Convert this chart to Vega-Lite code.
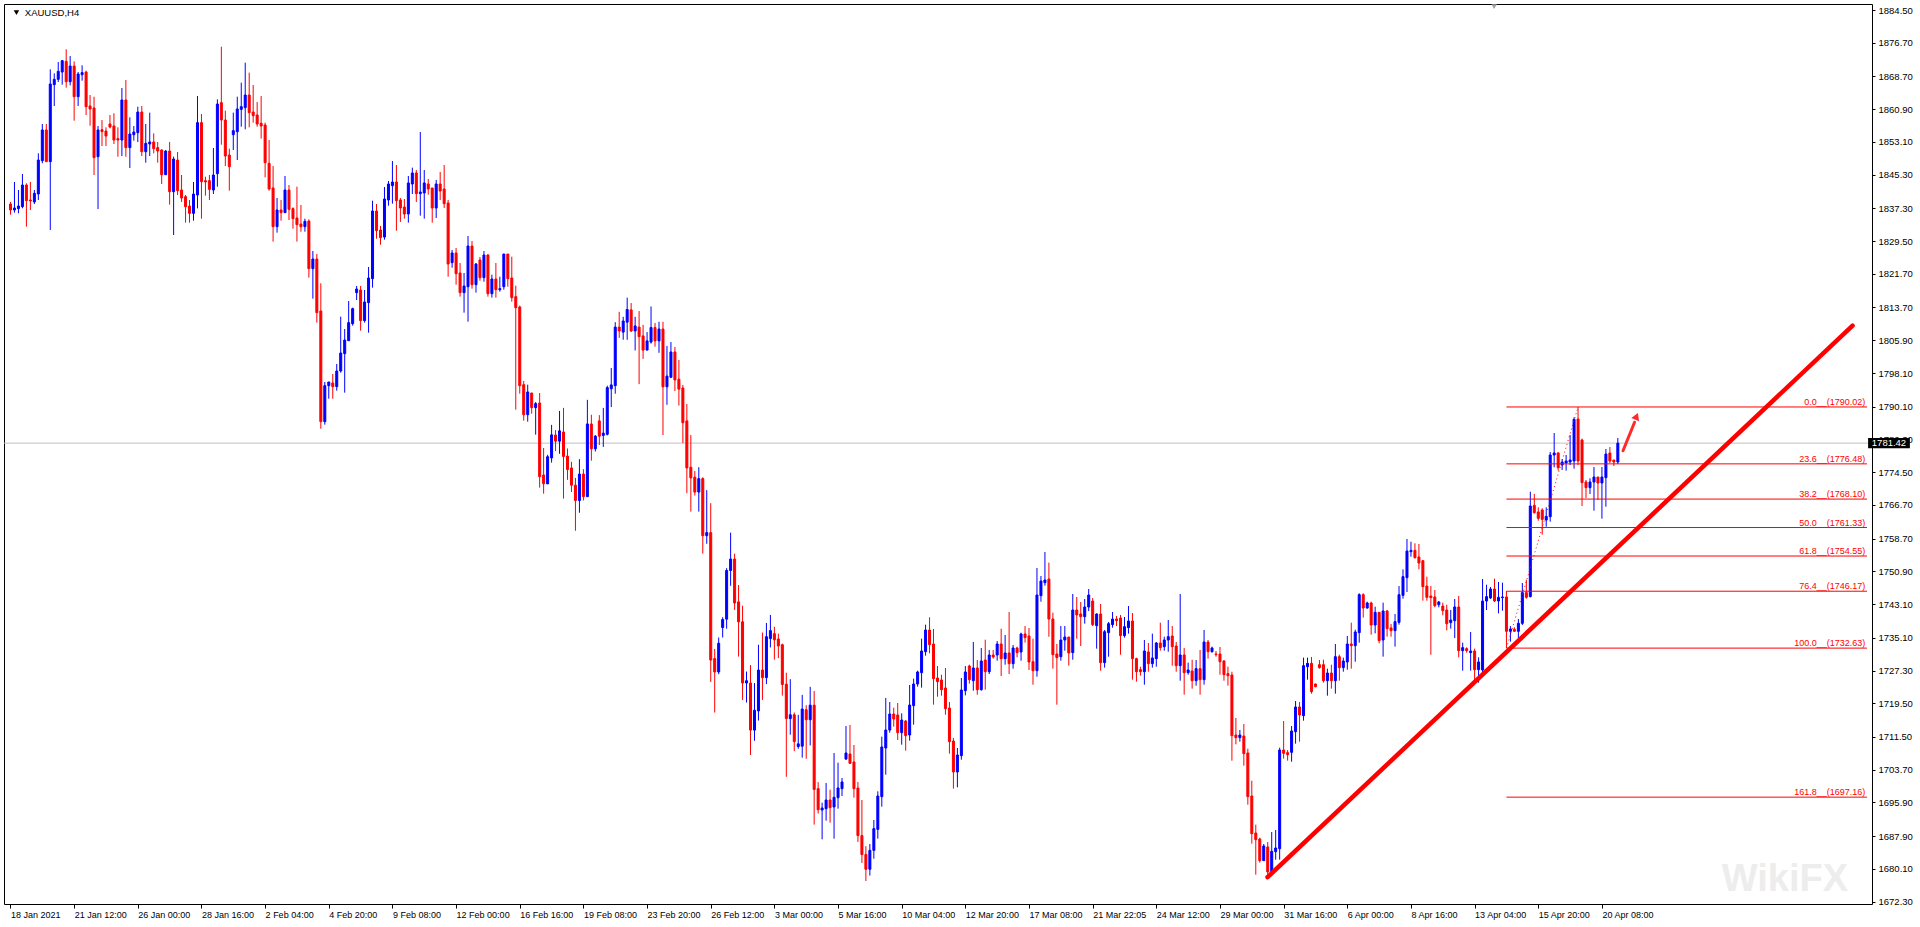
{
"$schema": "https://vega.github.io/schema/vega-lite/v6.json",
"width": 1868, "height": 900,
"autosize": {"type": "none"},
"padding": {"left": 4, "top": 4, "right": 48, "bottom": 23},
"background": "#ffffff",
"config": {
 "view": {"stroke": "#000000", "strokeWidth": 1},
 "font": "Liberation Sans",
 "axis": {"labelFont": "Liberation Sans", "labelFontSize": 9, "labelColor": "#000000", "tickColor": "#000000", "domain": false, "grid": false, "title": null, "labelOverlap": false, "labelFlush": false}
},
"datasets": {
 "candles": [
{"i":0,"o":1838.33,"h":1838.81,"l":1835.79,"c":1836.9},
{"i":1,"o":1836.9,"h":1843.57,"l":1836.27,"c":1837.38},
{"i":2,"o":1837.22,"h":1841.66,"l":1836.11,"c":1837.85},
{"i":3,"o":1837.69,"h":1845.47,"l":1837.3,"c":1842.85},
{"i":4,"o":1842.85,"h":1843.25,"l":1832.94,"c":1839.12},
{"i":5,"o":1839.28,"h":1843.57,"l":1836.9,"c":1839.04},
{"i":6,"o":1838.81,"h":1841.66,"l":1838.33,"c":1840.87},
{"i":7,"o":1840.71,"h":1850.39,"l":1839.28,"c":1848.8},
{"i":8,"o":1848.64,"h":1857.37,"l":1848.01,"c":1855.94},
{"i":9,"o":1855.94,"h":1857.37,"l":1848.41,"c":1848.41},
{"i":10,"o":1848.41,"h":1870.38,"l":1832.14,"c":1866.89},
{"i":11,"o":1866.73,"h":1869.43,"l":1861.65,"c":1868.0},
{"i":12,"o":1868.0,"h":1872.12,"l":1867.36,"c":1869.9},
{"i":13,"o":1869.74,"h":1872.6,"l":1866.73,"c":1872.44},
{"i":14,"o":1872.28,"h":1875.14,"l":1866.02,"c":1867.44},
{"i":15,"o":1867.44,"h":1873.55,"l":1866.57,"c":1871.17},
{"i":16,"o":1871.17,"h":1872.28,"l":1858.16,"c":1863.87},
{"i":17,"o":1863.87,"h":1869.74,"l":1861.65,"c":1869.27},
{"i":18,"o":1869.11,"h":1871.33,"l":1867.68,"c":1869.59},
{"i":19,"o":1869.74,"h":1870.06,"l":1859.51,"c":1861.49},
{"i":20,"o":1861.65,"h":1864.27,"l":1856.97,"c":1860.94},
{"i":21,"o":1861.18,"h":1863.87,"l":1845.23,"c":1849.36},
{"i":22,"o":1849.59,"h":1856.89,"l":1837.14,"c":1855.94},
{"i":23,"o":1856.02,"h":1858.32,"l":1852.13,"c":1855.54},
{"i":24,"o":1855.7,"h":1856.58,"l":1852.13,"c":1854.51},
{"i":25,"o":1857.37,"h":1859.51,"l":1856.34,"c":1856.65},
{"i":26,"o":1856.89,"h":1859.91,"l":1852.61,"c":1853.56},
{"i":27,"o":1853.88,"h":1856.58,"l":1849.59,"c":1853.56},
{"i":28,"o":1853.56,"h":1865.94,"l":1849.75,"c":1863.08},
{"i":29,"o":1863.08,"h":1867.84,"l":1849.59,"c":1851.74},
{"i":30,"o":1851.74,"h":1858.96,"l":1846.9,"c":1854.99},
{"i":31,"o":1854.83,"h":1856.89,"l":1853.4,"c":1855.46},
{"i":32,"o":1855.31,"h":1861.49,"l":1853.09,"c":1860.22},
{"i":33,"o":1860.22,"h":1861.65,"l":1849.75,"c":1850.78},
{"i":34,"o":1850.78,"h":1857.37,"l":1848.17,"c":1852.77},
{"i":35,"o":1852.61,"h":1860.07,"l":1849.75,"c":1853.09},
{"i":36,"o":1853.09,"h":1855.15,"l":1850.39,"c":1851.5},
{"i":37,"o":1851.74,"h":1853.09,"l":1848.17,"c":1850.94},
{"i":38,"o":1851.18,"h":1851.34,"l":1843.09,"c":1845.31},
{"i":39,"o":1845.31,"h":1851.18,"l":1845.31,"c":1850.94},
{"i":40,"o":1850.94,"h":1853.09,"l":1838.17,"c":1841.26},
{"i":41,"o":1841.26,"h":1849.59,"l":1830.95,"c":1849.04},
{"i":42,"o":1848.8,"h":1850.71,"l":1840.47,"c":1841.5},
{"i":43,"o":1841.66,"h":1845.23,"l":1838.81,"c":1839.76},
{"i":44,"o":1840.07,"h":1840.47,"l":1833.89,"c":1837.69},
{"i":45,"o":1837.85,"h":1839.28,"l":1833.89,"c":1836.11},
{"i":46,"o":1836.11,"h":1843.57,"l":1834.36,"c":1840.71},
{"i":47,"o":1840.47,"h":1864.03,"l":1837.3,"c":1857.69},
{"i":48,"o":1857.69,"h":1859.75,"l":1834.84,"c":1843.64},
{"i":49,"o":1843.88,"h":1844.83,"l":1840.31,"c":1843.57},
{"i":50,"o":1843.88,"h":1845.23,"l":1839.28,"c":1841.82},
{"i":51,"o":1841.66,"h":1851.66,"l":1840.71,"c":1845.23},
{"i":52,"o":1845.55,"h":1863.24,"l":1842.45,"c":1862.13},
{"i":53,"o":1862.45,"h":1875.77,"l":1852.45,"c":1858.32},
{"i":54,"o":1858.32,"h":1860.54,"l":1847.37,"c":1849.75},
{"i":55,"o":1849.99,"h":1851.5,"l":1841.5,"c":1847.21},
{"i":56,"o":1854.83,"h":1860.07,"l":1851.18,"c":1855.78},
{"i":57,"o":1855.54,"h":1863.87,"l":1848.8,"c":1860.94},
{"i":58,"o":1860.86,"h":1867.21,"l":1856.73,"c":1861.49},
{"i":59,"o":1861.26,"h":1871.97,"l":1856.1,"c":1864.27},
{"i":60,"o":1864.27,"h":1869.59,"l":1856.58,"c":1860.07},
{"i":61,"o":1860.22,"h":1866.65,"l":1857.69,"c":1859.35},
{"i":62,"o":1859.51,"h":1862.6,"l":1856.73,"c":1857.37},
{"i":63,"o":1857.53,"h":1864.03,"l":1853.88,"c":1856.89},
{"i":64,"o":1857.13,"h":1857.69,"l":1844.68,"c":1848.17},
{"i":65,"o":1848.01,"h":1853.56,"l":1841.5,"c":1841.9},
{"i":66,"o":1842.14,"h":1847.37,"l":1829.37,"c":1832.94},
{"i":67,"o":1832.94,"h":1839.76,"l":1831.51,"c":1836.9},
{"i":68,"o":1836.9,"h":1839.28,"l":1834.36,"c":1836.27},
{"i":69,"o":1836.27,"h":1844.99,"l":1836.27,"c":1841.66},
{"i":70,"o":1841.66,"h":1842.85,"l":1834.52,"c":1837.06},
{"i":71,"o":1837.22,"h":1837.54,"l":1832.46,"c":1834.84},
{"i":72,"o":1835.0,"h":1842.45,"l":1829.37,"c":1833.41},
{"i":73,"o":1833.57,"h":1838.09,"l":1831.74,"c":1832.93},
{"i":74,"o":1832.93,"h":1834.84,"l":1831.74,"c":1834.2},
{"i":75,"o":1834.28,"h":1834.68,"l":1820.8,"c":1822.94},
{"i":76,"o":1822.94,"h":1827.14,"l":1815.8,"c":1825.24},
{"i":77,"o":1825.24,"h":1826.43,"l":1810.09,"c":1812.47},
{"i":78,"o":1812.86,"h":1819.45,"l":1784.86,"c":1786.53},
{"i":79,"o":1786.53,"h":1795.97,"l":1785.81,"c":1795.09},
{"i":80,"o":1795.09,"h":1795.97,"l":1792.0,"c":1795.97},
{"i":81,"o":1795.73,"h":1797.87,"l":1792.0,"c":1794.86},
{"i":82,"o":1794.86,"h":1800.25,"l":1793.9,"c":1798.58},
{"i":83,"o":1798.58,"h":1811.52,"l":1798.19,"c":1802.87},
{"i":84,"o":1802.71,"h":1808.58,"l":1793.43,"c":1805.96},
{"i":85,"o":1805.8,"h":1815.24,"l":1805.8,"c":1810.09},
{"i":86,"o":1809.85,"h":1813.66,"l":1809.37,"c":1813.42},
{"i":87,"o":1817.23,"h":1818.81,"l":1815.48,"c":1818.1},
{"i":88,"o":1817.86,"h":1818.81,"l":1808.18,"c":1810.56},
{"i":89,"o":1810.56,"h":1817.86,"l":1810.09,"c":1815.01},
{"i":90,"o":1814.85,"h":1823.34,"l":1807.71,"c":1820.72},
{"i":91,"o":1820.56,"h":1839.12,"l":1818.42,"c":1836.66},
{"i":92,"o":1836.66,"h":1838.33,"l":1830.08,"c":1831.98},
{"i":93,"o":1832.14,"h":1833.09,"l":1828.65,"c":1830.32},
{"i":94,"o":1830.47,"h":1842.37,"l":1829.84,"c":1839.52},
{"i":95,"o":1839.28,"h":1843.8,"l":1837.93,"c":1843.09},
{"i":96,"o":1842.69,"h":1848.56,"l":1838.41,"c":1843.56},
{"i":97,"o":1843.56,"h":1847.61,"l":1831.98,"c":1839.12},
{"i":98,"o":1839.28,"h":1839.76,"l":1834.05,"c":1837.38},
{"i":99,"o":1837.61,"h":1839.52,"l":1834.84,"c":1835.95},
{"i":100,"o":1835.95,"h":1844.99,"l":1833.89,"c":1843.33},
{"i":101,"o":1843.09,"h":1846.98,"l":1840.71,"c":1845.71},
{"i":102,"o":1845.71,"h":1846.42,"l":1838.8,"c":1840.79},
{"i":103,"o":1840.79,"h":1855.46,"l":1835.55,"c":1841.18},
{"i":104,"o":1840.95,"h":1846.42,"l":1834.84,"c":1843.33},
{"i":105,"o":1843.09,"h":1844.28,"l":1840.55,"c":1841.9},
{"i":106,"o":1842.14,"h":1842.14,"l":1833.89,"c":1837.38},
{"i":107,"o":1837.38,"h":1844.04,"l":1835.0,"c":1843.09},
{"i":108,"o":1843.09,"h":1845.94,"l":1839.28,"c":1841.42},
{"i":109,"o":1841.9,"h":1847.61,"l":1837.38,"c":1838.41},
{"i":110,"o":1838.57,"h":1839.28,"l":1821.03,"c":1824.05},
{"i":111,"o":1824.37,"h":1827.38,"l":1823.18,"c":1826.67},
{"i":112,"o":1826.67,"h":1827.86,"l":1819.13,"c":1821.75},
{"i":113,"o":1821.91,"h":1824.29,"l":1816.28,"c":1817.23},
{"i":114,"o":1817.23,"h":1821.91,"l":1812.47,"c":1818.81},
{"i":115,"o":1818.65,"h":1830.71,"l":1810.33,"c":1828.33},
{"i":116,"o":1828.33,"h":1829.52,"l":1818.18,"c":1819.13},
{"i":117,"o":1819.13,"h":1824.29,"l":1817.23,"c":1824.05},
{"i":118,"o":1825.0,"h":1825.72,"l":1820.08,"c":1820.8},
{"i":119,"o":1820.8,"h":1827.14,"l":1819.84,"c":1826.19},
{"i":120,"o":1826.19,"h":1826.43,"l":1816.28,"c":1816.99},
{"i":121,"o":1816.99,"h":1821.51,"l":1816.04,"c":1820.48},
{"i":122,"o":1820.48,"h":1824.29,"l":1816.04,"c":1817.94},
{"i":123,"o":1817.94,"h":1821.03,"l":1817.47,"c":1818.18},
{"i":124,"o":1818.65,"h":1826.43,"l":1817.94,"c":1826.43},
{"i":125,"o":1826.43,"h":1826.43,"l":1818.65,"c":1820.56},
{"i":126,"o":1820.72,"h":1825.79,"l":1815.09,"c":1816.04},
{"i":127,"o":1816.28,"h":1818.89,"l":1789.38,"c":1813.66},
{"i":128,"o":1813.82,"h":1814.13,"l":1793.19,"c":1795.09},
{"i":129,"o":1795.33,"h":1796.21,"l":1786.76,"c":1788.19},
{"i":130,"o":1788.19,"h":1795.33,"l":1786.53,"c":1793.59},
{"i":131,"o":1793.35,"h":1793.35,"l":1788.43,"c":1789.86},
{"i":132,"o":1789.86,"h":1791.21,"l":1783.43,"c":1790.81},
{"i":133,"o":1790.97,"h":1793.35,"l":1770.82,"c":1773.44},
{"i":134,"o":1773.83,"h":1780.26,"l":1769.39,"c":1771.77},
{"i":135,"o":1771.72,"h":1778.64,"l":1771.72,"c":1778.18},
{"i":136,"o":1777.9,"h":1785.76,"l":1776.78,"c":1783.39},
{"i":137,"o":1783.34,"h":1784.52,"l":1779.52,"c":1781.88},
{"i":138,"o":1781.88,"h":1789.08,"l":1778.88,"c":1784.34},
{"i":139,"o":1784.07,"h":1789.81,"l":1768.22,"c":1778.24},
{"i":140,"o":1778.33,"h":1780.15,"l":1772.68,"c":1775.14},
{"i":141,"o":1775.51,"h":1776.97,"l":1769.77,"c":1771.41},
{"i":142,"o":1771.41,"h":1773.14,"l":1760.57,"c":1767.77},
{"i":143,"o":1767.77,"h":1777.6,"l":1764.85,"c":1774.05},
{"i":144,"o":1774.05,"h":1775.23,"l":1767.77,"c":1768.68},
{"i":145,"o":1768.68,"h":1791.72,"l":1768.68,"c":1785.98},
{"i":146,"o":1785.98,"h":1788.17,"l":1777.24,"c":1780.06},
{"i":147,"o":1780.06,"h":1783.34,"l":1779.42,"c":1783.07},
{"i":148,"o":1786.71,"h":1788.08,"l":1780.97,"c":1783.07},
{"i":149,"o":1783.25,"h":1789.81,"l":1780.52,"c":1783.8},
{"i":150,"o":1783.52,"h":1795.09,"l":1783.25,"c":1794.63},
{"i":151,"o":1794.36,"h":1799.28,"l":1789.99,"c":1795.27},
{"i":152,"o":1795.09,"h":1810.21,"l":1793.18,"c":1809.03},
{"i":153,"o":1809.03,"h":1812.67,"l":1806.47,"c":1808.11},
{"i":154,"o":1807.84,"h":1811.48,"l":1806.02,"c":1810.48},
{"i":155,"o":1810.21,"h":1816.04,"l":1806.02,"c":1813.21},
{"i":156,"o":1813.12,"h":1814.76,"l":1807.84,"c":1808.11},
{"i":157,"o":1808.11,"h":1811.48,"l":1803.47,"c":1809.3},
{"i":158,"o":1809.03,"h":1812.85,"l":1795.45,"c":1806.75},
{"i":159,"o":1806.93,"h":1809.57,"l":1801.47,"c":1803.56},
{"i":160,"o":1803.56,"h":1807.84,"l":1803.56,"c":1805.75},
{"i":161,"o":1805.47,"h":1813.94,"l":1805.11,"c":1808.93},
{"i":162,"o":1808.93,"h":1810.03,"l":1804.38,"c":1805.75},
{"i":163,"o":1805.75,"h":1810.3,"l":1802.92,"c":1808.57},
{"i":164,"o":1808.57,"h":1810.3,"l":1783.34,"c":1794.82},
{"i":165,"o":1794.82,"h":1804.56,"l":1790.54,"c":1797.37},
{"i":166,"o":1797.09,"h":1805.47,"l":1796.91,"c":1803.11},
{"i":167,"o":1803.11,"h":1804.29,"l":1793.81,"c":1796.46},
{"i":168,"o":1796.64,"h":1801.19,"l":1790.35,"c":1794.27},
{"i":169,"o":1794.54,"h":1795.27,"l":1781.43,"c":1786.26},
{"i":170,"o":1786.71,"h":1790.72,"l":1769.5,"c":1775.51},
{"i":171,"o":1775.69,"h":1783.34,"l":1765.12,"c":1773.14},
{"i":172,"o":1773.32,"h":1774.78,"l":1768.95,"c":1769.77},
{"i":173,"o":1769.77,"h":1775.69,"l":1765.12,"c":1772.96},
{"i":174,"o":1772.96,"h":1773.32,"l":1755.11,"c":1759.39},
{"i":175,"o":1759.39,"h":1770.23,"l":1757.47,"c":1760.12},
{"i":176,"o":1760.12,"h":1767.13,"l":1724.59,"c":1729.79},
{"i":177,"o":1730.15,"h":1732.43,"l":1717.31,"c":1726.96},
{"i":178,"o":1726.96,"h":1735.16,"l":1726.42,"c":1733.79},
{"i":179,"o":1737.53,"h":1739.99,"l":1735.16,"c":1739.44},
{"i":180,"o":1739.53,"h":1751.65,"l":1737.25,"c":1751.1},
{"i":181,"o":1751.1,"h":1760.12,"l":1747.46,"c":1753.83},
{"i":182,"o":1753.83,"h":1755.11,"l":1741.72,"c":1743.36},
{"i":183,"o":1743.63,"h":1747.64,"l":1730.61,"c":1738.89},
{"i":184,"o":1738.89,"h":1742.72,"l":1720.31,"c":1724.32},
{"i":185,"o":1724.32,"h":1727.05,"l":1719.68,"c":1724.87},
{"i":186,"o":1724.32,"h":1728.6,"l":1707.2,"c":1713.12},
{"i":187,"o":1713.12,"h":1724.32,"l":1710.57,"c":1717.85},
{"i":188,"o":1717.67,"h":1733.43,"l":1715.39,"c":1727.42},
{"i":189,"o":1727.42,"h":1736.34,"l":1720.31,"c":1725.6},
{"i":190,"o":1725.6,"h":1738.62,"l":1724.05,"c":1735.34},
{"i":191,"o":1734.89,"h":1740.53,"l":1732.79,"c":1736.8},
{"i":192,"o":1736.07,"h":1737.71,"l":1729.88,"c":1734.61},
{"i":193,"o":1734.8,"h":1736.07,"l":1730.24,"c":1733.16},
{"i":194,"o":1733.43,"h":1733.7,"l":1721.32,"c":1723.96},
{"i":195,"o":1724.05,"h":1726.78,"l":1702.01,"c":1715.85},
{"i":196,"o":1715.85,"h":1725.23,"l":1712.03,"c":1716.76},
{"i":197,"o":1716.76,"h":1717.31,"l":1708.11,"c":1710.39},
{"i":198,"o":1709.2,"h":1716.76,"l":1708.66,"c":1709.84},
{"i":199,"o":1709.29,"h":1721.5,"l":1706.56,"c":1718.13},
{"i":200,"o":1717.95,"h":1719.04,"l":1706.29,"c":1715.58},
{"i":201,"o":1715.58,"h":1723.41,"l":1709.47,"c":1719.04},
{"i":202,"o":1719.04,"h":1722.41,"l":1690.62,"c":1699.0},
{"i":203,"o":1699.18,"h":1700.73,"l":1693.26,"c":1694.17},
{"i":204,"o":1694.1,"h":1695.85,"l":1687.12,"c":1694.58},
{"i":205,"o":1694.42,"h":1700.53,"l":1691.56,"c":1696.48},
{"i":206,"o":1696.48,"h":1698.94,"l":1691.09,"c":1694.66},
{"i":207,"o":1694.82,"h":1707.67,"l":1687.28,"c":1697.12},
{"i":208,"o":1697.04,"h":1705.37,"l":1694.42,"c":1699.34},
{"i":209,"o":1699.18,"h":1701.72,"l":1697.43,"c":1700.77},
{"i":210,"o":1706.24,"h":1714.09,"l":1706.0,"c":1707.67},
{"i":211,"o":1707.43,"h":1714.33,"l":1705.05,"c":1705.21},
{"i":212,"o":1705.53,"h":1709.57,"l":1697.04,"c":1699.18},
{"i":213,"o":1699.34,"h":1700.77,"l":1686.5,"c":1688.0},
{"i":214,"o":1688.0,"h":1696.48,"l":1681.5,"c":1683.5},
{"i":215,"o":1683.5,"h":1685.5,"l":1677.2,"c":1680.0},
{"i":216,"o":1680.0,"h":1686.0,"l":1678.5,"c":1684.5},
{"i":217,"o":1684.5,"h":1691.72,"l":1682.5,"c":1689.66},
{"i":218,"o":1689.5,"h":1698.55,"l":1687.28,"c":1697.43},
{"i":219,"o":1697.28,"h":1711.56,"l":1694.9,"c":1709.1},
{"i":220,"o":1708.86,"h":1720.76,"l":1702.51,"c":1713.14},
{"i":221,"o":1713.14,"h":1719.81,"l":1712.51,"c":1716.95},
{"i":222,"o":1716.95,"h":1718.46,"l":1713.94,"c":1715.76},
{"i":223,"o":1716.71,"h":1719.57,"l":1710.76,"c":1712.51},
{"i":224,"o":1712.51,"h":1717.11,"l":1709.65,"c":1715.52},
{"i":225,"o":1715.28,"h":1715.52,"l":1708.22,"c":1711.79},
{"i":226,"o":1711.95,"h":1723.85,"l":1710.6,"c":1719.09},
{"i":227,"o":1718.93,"h":1725.36,"l":1714.41,"c":1724.09},
{"i":228,"o":1724.09,"h":1727.26,"l":1723.45,"c":1726.95},
{"i":229,"o":1726.79,"h":1734.88,"l":1723.22,"c":1731.94},
{"i":230,"o":1731.78,"h":1738.21,"l":1730.83,"c":1736.94},
{"i":231,"o":1736.94,"h":1739.96,"l":1731.39,"c":1733.45},
{"i":232,"o":1733.61,"h":1737.18,"l":1719.17,"c":1725.36},
{"i":233,"o":1725.52,"h":1728.37,"l":1721.07,"c":1724.64},
{"i":234,"o":1725.04,"h":1726.31,"l":1721.31,"c":1722.74},
{"i":235,"o":1723.14,"h":1727.9,"l":1716.79,"c":1718.22},
{"i":236,"o":1718.38,"h":1719.81,"l":1707.51,"c":1710.37},
{"i":237,"o":1710.52,"h":1711.24,"l":1699.18,"c":1703.15},
{"i":238,"o":1703.15,"h":1708.86,"l":1699.5,"c":1707.19},
{"i":239,"o":1707.03,"h":1725.52,"l":1706.08,"c":1722.66},
{"i":240,"o":1722.5,"h":1728.37,"l":1721.39,"c":1726.95},
{"i":241,"o":1728.37,"h":1728.69,"l":1724.17,"c":1725.12},
{"i":242,"o":1724.88,"h":1734.09,"l":1722.5,"c":1727.9},
{"i":243,"o":1727.9,"h":1729.8,"l":1721.55,"c":1722.74},
{"i":244,"o":1722.74,"h":1732.66,"l":1722.5,"c":1729.56},
{"i":245,"o":1729.8,"h":1734.64,"l":1722.74,"c":1727.02},
{"i":246,"o":1727.02,"h":1732.18,"l":1726.47,"c":1730.99},
{"i":247,"o":1730.99,"h":1732.18,"l":1730.12,"c":1730.51},
{"i":248,"o":1730.99,"h":1734.32,"l":1729.64,"c":1733.61},
{"i":249,"o":1733.61,"h":1737.26,"l":1725.99,"c":1730.12},
{"i":250,"o":1730.12,"h":1735.75,"l":1728.69,"c":1731.47},
{"i":251,"o":1731.47,"h":1741.22,"l":1726.47,"c":1728.93},
{"i":252,"o":1728.93,"h":1733.37,"l":1727.74,"c":1732.66},
{"i":253,"o":1732.66,"h":1732.97,"l":1730.44,"c":1731.55},
{"i":254,"o":1731.71,"h":1736.31,"l":1729.64,"c":1735.99},
{"i":255,"o":1735.99,"h":1737.89,"l":1733.93,"c":1735.12},
{"i":256,"o":1735.51,"h":1737.42,"l":1727.42,"c":1729.32},
{"i":257,"o":1729.4,"h":1734.88,"l":1723.93,"c":1727.26},
{"i":258,"o":1727.26,"h":1751.7,"l":1725.83,"c":1745.27},
{"i":259,"o":1745.11,"h":1749.79,"l":1743.68,"c":1748.6},
{"i":260,"o":1748.21,"h":1755.5,"l":1747.49,"c":1748.84},
{"i":261,"o":1749.08,"h":1752.97,"l":1735.35,"c":1739.56},
{"i":262,"o":1739.56,"h":1741.07,"l":1727.74,"c":1731.07},
{"i":263,"o":1731.23,"h":1733.61,"l":1719.17,"c":1730.36},
{"i":264,"o":1730.59,"h":1737.89,"l":1729.64,"c":1734.56},
{"i":265,"o":1734.56,"h":1737.89,"l":1732.02,"c":1735.27},
{"i":266,"o":1735.27,"h":1735.27,"l":1728.45,"c":1731.47},
{"i":267,"o":1731.55,"h":1745.51,"l":1729.88,"c":1741.7},
{"i":268,"o":1741.7,"h":1744.79,"l":1734.88,"c":1740.51},
{"i":269,"o":1740.75,"h":1743.6,"l":1733.13,"c":1740.11},
{"i":270,"o":1740.11,"h":1744.32,"l":1738.45,"c":1742.41},
{"i":271,"o":1742.41,"h":1746.7,"l":1741.46,"c":1745.27},
{"i":272,"o":1743.84,"h":1744.56,"l":1737.89,"c":1738.21},
{"i":273,"o":1737.97,"h":1740.9,"l":1732.5,"c":1740.75},
{"i":274,"o":1740.75,"h":1743.13,"l":1727.26,"c":1729.17},
{"i":275,"o":1729.17,"h":1736.94,"l":1727.98,"c":1736.54},
{"i":276,"o":1736.31,"h":1738.85,"l":1730.59,"c":1738.45},
{"i":277,"o":1738.21,"h":1741.22,"l":1737.5,"c":1739.56},
{"i":278,"o":1739.56,"h":1740.27,"l":1737.89,"c":1739.16},
{"i":279,"o":1739.8,"h":1740.51,"l":1731.07,"c":1735.59},
{"i":280,"o":1735.59,"h":1740.03,"l":1735.12,"c":1737.73},
{"i":281,"o":1737.5,"h":1742.65,"l":1736.07,"c":1739.08},
{"i":282,"o":1739.08,"h":1740.99,"l":1725.12,"c":1730.12},
{"i":283,"o":1730.12,"h":1730.36,"l":1724.64,"c":1727.02},
{"i":284,"o":1727.5,"h":1728.21,"l":1726.07,"c":1727.02},
{"i":285,"o":1727.02,"h":1734.56,"l":1723.93,"c":1731.94},
{"i":286,"o":1731.71,"h":1733.85,"l":1727.02,"c":1728.93},
{"i":287,"o":1728.93,"h":1736.07,"l":1727.98,"c":1730.28},
{"i":288,"o":1730.12,"h":1734.08,"l":1728.21,"c":1733.85},
{"i":289,"o":1733.85,"h":1738.69,"l":1732.02,"c":1732.74},
{"i":290,"o":1732.97,"h":1735.35,"l":1732.02,"c":1734.56},
{"i":291,"o":1734.56,"h":1739.32,"l":1731.78,"c":1735.35},
{"i":292,"o":1735.51,"h":1737.89,"l":1728.45,"c":1732.97},
{"i":293,"o":1733.13,"h":1734.08,"l":1727.02,"c":1728.45},
{"i":294,"o":1728.45,"h":1745.51,"l":1724.88,"c":1730.99},
{"i":295,"o":1730.99,"h":1732.66,"l":1721.55,"c":1726.79},
{"i":296,"o":1726.79,"h":1729.17,"l":1726.31,"c":1727.42},
{"i":297,"o":1727.18,"h":1729.88,"l":1722.98,"c":1724.88},
{"i":298,"o":1724.88,"h":1729.8,"l":1723.69,"c":1727.74},
{"i":299,"o":1727.74,"h":1732.18,"l":1721.55,"c":1725.12},
{"i":300,"o":1725.12,"h":1736.94,"l":1723.93,"c":1734.08},
{"i":301,"o":1734.08,"h":1734.56,"l":1730.12,"c":1731.78},
{"i":302,"o":1731.78,"h":1732.97,"l":1731.55,"c":1732.66},
{"i":303,"o":1731.23,"h":1731.94,"l":1730.59,"c":1731.07},
{"i":304,"o":1731.23,"h":1732.9,"l":1726.31,"c":1729.4},
{"i":305,"o":1729.56,"h":1729.8,"l":1724.88,"c":1726.31},
{"i":306,"o":1726.55,"h":1728.21,"l":1723.69,"c":1726.07},
{"i":307,"o":1726.23,"h":1727.02,"l":1705.84,"c":1711.79},
{"i":308,"o":1711.95,"h":1716.0,"l":1709.73,"c":1711.32},
{"i":309,"o":1711.32,"h":1713.14,"l":1710.37,"c":1711.95},
{"i":310,"o":1711.71,"h":1714.57,"l":1704.65,"c":1707.51},
{"i":311,"o":1707.67,"h":1708.7,"l":1695.37,"c":1697.28},
{"i":312,"o":1697.43,"h":1701.08,"l":1686.09,"c":1688.47},
{"i":313,"o":1688.63,"h":1690.61,"l":1678.71,"c":1687.04},
{"i":314,"o":1687.2,"h":1687.52,"l":1681.57,"c":1682.05},
{"i":315,"o":1682.05,"h":1686.01,"l":1682.05,"c":1685.54},
{"i":316,"o":1685.3,"h":1686.49,"l":1678.24,"c":1679.35},
{"i":317,"o":1679.43,"h":1688.87,"l":1679.27,"c":1684.27},
{"i":318,"o":1684.19,"h":1689.34,"l":1682.28,"c":1685.06},
{"i":319,"o":1684.9,"h":1708.94,"l":1682.28,"c":1708.38},
{"i":320,"o":1708.38,"h":1715.28,"l":1706.32,"c":1707.59},
{"i":321,"o":1707.75,"h":1708.38,"l":1705.84,"c":1707.27},
{"i":322,"o":1707.83,"h":1714.09,"l":1705.6,"c":1712.9},
{"i":323,"o":1712.75,"h":1720.04,"l":1709.89,"c":1718.62},
{"i":324,"o":1718.62,"h":1719.81,"l":1710.37,"c":1716.71},
{"i":325,"o":1716.55,"h":1730.36,"l":1715.36,"c":1728.45},
{"i":326,"o":1728.21,"h":1730.36,"l":1725.12,"c":1729.01},
{"i":327,"o":1729.01,"h":1730.52,"l":1721.79,"c":1722.27},
{"i":328,"o":1724.09,"h":1724.2,"l":1723.3,"c":1723.45},
{"i":329,"o":1728.69,"h":1729.8,"l":1727.74,"c":1727.98},
{"i":330,"o":1728.69,"h":1729.88,"l":1724.41,"c":1724.88},
{"i":331,"o":1724.88,"h":1727.74,"l":1721.31,"c":1726.71},
{"i":332,"o":1726.71,"h":1728.69,"l":1722.98,"c":1724.88},
{"i":333,"o":1724.88,"h":1733.61,"l":1721.79,"c":1730.59},
{"i":334,"o":1730.59,"h":1731.07,"l":1724.88,"c":1727.98},
{"i":335,"o":1727.98,"h":1730.36,"l":1727.02,"c":1729.56},
{"i":336,"o":1729.33,"h":1735.51,"l":1727.5,"c":1733.61},
{"i":337,"o":1733.61,"h":1738.69,"l":1727.74,"c":1733.21},
{"i":338,"o":1733.21,"h":1737.02,"l":1729.4,"c":1736.47},
{"i":339,"o":1736.31,"h":1745.67,"l":1733.93,"c":1745.35},
{"i":340,"o":1745.35,"h":1745.67,"l":1739.88,"c":1742.18},
{"i":341,"o":1742.18,"h":1743.69,"l":1742.02,"c":1743.37},
{"i":342,"o":1743.37,"h":1743.69,"l":1735.83,"c":1738.13},
{"i":343,"o":1738.13,"h":1742.5,"l":1736.15,"c":1741.15},
{"i":344,"o":1741.15,"h":1741.23,"l":1733.77,"c":1734.4},
{"i":345,"o":1734.56,"h":1743.45,"l":1730.6,"c":1741.46},
{"i":346,"o":1741.46,"h":1741.7,"l":1735.36,"c":1737.26},
{"i":347,"o":1737.42,"h":1738.37,"l":1735.36,"c":1736.78},
{"i":348,"o":1736.78,"h":1740.75,"l":1732.98,"c":1738.93},
{"i":349,"o":1738.77,"h":1747.41,"l":1738.21,"c":1745.35},
{"i":350,"o":1745.19,"h":1751.38,"l":1744.4,"c":1749.64},
{"i":351,"o":1749.4,"h":1758.6,"l":1745.99,"c":1755.74},
{"i":352,"o":1755.58,"h":1757.96,"l":1754.39,"c":1755.9},
{"i":353,"o":1755.9,"h":1757.57,"l":1753.92,"c":1754.16},
{"i":354,"o":1754.32,"h":1757.41,"l":1751.38,"c":1752.89},
{"i":355,"o":1753.44,"h":1753.44,"l":1743.92,"c":1747.26},
{"i":356,"o":1747.41,"h":1749.64,"l":1743.92,"c":1744.72},
{"i":357,"o":1745.03,"h":1747.41,"l":1731.07,"c":1744.64},
{"i":358,"o":1744.8,"h":1746.46,"l":1742.34,"c":1742.73},
{"i":359,"o":1742.97,"h":1743.84,"l":1742.34,"c":1743.61},
{"i":360,"o":1742.65,"h":1743.45,"l":1740.43,"c":1741.54},
{"i":361,"o":1741.7,"h":1742.97,"l":1736.86,"c":1738.45},
{"i":362,"o":1738.69,"h":1741.7,"l":1737.26,"c":1739.32},
{"i":363,"o":1739.16,"h":1744.32,"l":1735.04,"c":1742.42},
{"i":364,"o":1742.42,"h":1745.03,"l":1730.44,"c":1732.02},
{"i":365,"o":1732.02,"h":1733.93,"l":1727.26,"c":1732.74},
{"i":366,"o":1732.5,"h":1732.82,"l":1731.55,"c":1732.02},
{"i":367,"o":1731.55,"h":1736.47,"l":1727.26,"c":1731.94},
{"i":368,"o":1731.94,"h":1732.5,"l":1725.04,"c":1727.5},
{"i":369,"o":1727.5,"h":1730.44,"l":1724.41,"c":1729.33},
{"i":370,"o":1727.42,"h":1749.08,"l":1726.79,"c":1743.84},
{"i":371,"o":1743.84,"h":1747.73,"l":1741.7,"c":1744.88},
{"i":372,"o":1744.56,"h":1747.18,"l":1744.32,"c":1746.7},
{"i":373,"o":1746.7,"h":1749.16,"l":1743.61,"c":1743.84},
{"i":374,"o":1743.84,"h":1748.37,"l":1740.91,"c":1744.72},
{"i":375,"o":1744.64,"h":1748.21,"l":1741.54,"c":1744.8},
{"i":376,"o":1744.8,"h":1746.22,"l":1732.63,"c":1736.63},
{"i":377,"o":1736.63,"h":1737.89,"l":1734.17,"c":1737.18},
{"i":378,"o":1737.1,"h":1737.58,"l":1736.55,"c":1736.63},
{"i":379,"o":1736.63,"h":1739.56,"l":1734.88,"c":1738.53},
{"i":380,"o":1738.53,"h":1748.13,"l":1738.13,"c":1745.83},
{"i":381,"o":1745.83,"h":1748.92,"l":1744.4,"c":1744.72},
{"i":382,"o":1744.88,"h":1769.86,"l":1744.72,"c":1766.45},
{"i":383,"o":1766.61,"h":1769.31,"l":1764.63,"c":1764.87},
{"i":384,"o":1765.03,"h":1766.14,"l":1762.96,"c":1763.52},
{"i":385,"o":1765.5,"h":1765.9,"l":1759.63,"c":1763.28},
{"i":386,"o":1763.12,"h":1766.14,"l":1761.53,"c":1763.99},
{"i":387,"o":1763.91,"h":1779.3,"l":1762.72,"c":1778.59},
{"i":388,"o":1778.59,"h":1783.83,"l":1775.66,"c":1779.07},
{"i":389,"o":1779.07,"h":1779.3,"l":1774.86,"c":1775.58},
{"i":390,"o":1776.21,"h":1777.64,"l":1775.02,"c":1776.92},
{"i":391,"o":1776.69,"h":1778.59,"l":1774.86,"c":1777.16},
{"i":392,"o":1776.92,"h":1783.35,"l":1776.21,"c":1777.4},
{"i":393,"o":1777.16,"h":1787.55,"l":1775.34,"c":1787.08},
{"i":394,"o":1787.16,"h":1790.02,"l":1776.21,"c":1777.16},
{"i":395,"o":1782.16,"h":1782.48,"l":1766.45,"c":1772.01},
{"i":396,"o":1772.16,"h":1772.64,"l":1768.36,"c":1770.82},
{"i":397,"o":1770.82,"h":1773.04,"l":1769.31,"c":1772.16},
{"i":398,"o":1772.16,"h":1775.73,"l":1765.34,"c":1773.35},
{"i":399,"o":1773.35,"h":1773.35,"l":1767.88,"c":1771.93},
{"i":400,"o":1771.93,"h":1775.73,"l":1763.44,"c":1773.35},
{"i":401,"o":1773.2,"h":1780.02,"l":1766.29,"c":1778.83},
{"i":402,"o":1779.07,"h":1780.49,"l":1776.69,"c":1777.16},
{"i":403,"o":1777.4,"h":1777.4,"l":1775.97,"c":1776.92},
{"i":404,"o":1776.92,"h":1782.64,"l":1776.45,"c":1781.42}
 ],
 "fib": [
{"label":"0.0__(1790.02)","p":1790.02},
{"label":"23.6__(1776.48)","p":1776.48},
{"label":"38.2__(1768.10)","p":1768.10},
{"label":"50.0__(1761.33)","p":1761.33},
{"label":"61.8__(1754.55)","p":1754.55},
{"label":"76.4__(1746.17)","p":1746.17},
{"label":"100.0__(1732.63)","p":1732.63},
{"label":"161.8__(1697.16)","p":1697.16}
 ],
 "fibdiag": [{"i":376,"p":1732.63},{"i":394,"p":1790.02}],
 "trend": [{"i":315.95,"p":1678.1},{"i":463.0,"p":1809.36}],
 "arrow": [{"i":405.3,"p":1779.6},{"i":408.2,"p":1786.4}],
 "arrowhead": [{"i":408.7,"p":1787.8}],
 "bid": [{"p":1781.42}]
},
"layer": [
 {
  "data": {"values": [{"t":"WikiFX","i":446.0,"p":1677.4}]},
  "mark": {"type": "text", "fontSize": 38, "fontWeight": "bold", "color": "#EDEDED", "align": "center", "baseline": "middle"},
  "encoding": {
   "x": {"field": "i", "type": "quantitative", "scale": {"domain": [-0.375, 466.625], "nice": false, "zero": false}},
   "y": {"field": "p", "type": "quantitative", "scale": {"domain": [1671.73, 1885.93], "nice": false, "zero": false}},
   "text": {"field": "t"}
  }
 },
 {
  "data": {"name": "bid"},
  "mark": {"type": "rule", "color": "#C0C0C0", "strokeWidth": 1},
  "encoding": {"y": {"field": "p", "type": "quantitative", "scale": {"domain": [1671.73, 1885.93], "nice": false, "zero": false}}}
 },
 {
  "data": {"name": "candles"},
  "mark": {"type": "rule", "strokeWidth": 1},
  "encoding": {
   "x": {"field": "i", "type": "quantitative", "scale": {"domain": [-0.375, 466.625], "nice": false, "zero": false},
     "axis": {"orient": "bottom", "values": [0,16,32,48,64,80,96,112,128,144,160,176,192,208,224,240,256,272,288,304,320,336,352,368,384,400], "tickCount": 100, "labelAlign": "left", "labelBaseline": "top", "tickSize": 4, "labelPadding": 2, "labelFontSize": 9, "labelOverlap": false,
       "labelExpr": "['18 Jan 2021','21 Jan 12:00','26 Jan 00:00','28 Jan 16:00','2 Feb 04:00','4 Feb 20:00','9 Feb 08:00','12 Feb 00:00','16 Feb 16:00','19 Feb 08:00','23 Feb 20:00','26 Feb 12:00','3 Mar 00:00','5 Mar 16:00','10 Mar 04:00','12 Mar 20:00','17 Mar 08:00','21 Mar 22:05','24 Mar 12:00','29 Mar 00:00','31 Mar 16:00','6 Apr 00:00','8 Apr 16:00','13 Apr 04:00','15 Apr 20:00','20 Apr 08:00'][round(datum.value/16)]"}},
   "y": {"field": "l", "type": "quantitative", "scale": {"domain": [1671.73, 1885.93], "nice": false, "zero": false},
     "axis": {"orient": "right", "values": [1672.3,1680.1,1687.9,1695.9,1703.7,1711.5,1719.5,1727.3,1735.1,1743.1,1750.9,1758.7,1766.7,1774.5,1782.3,1790.1,1798.1,1805.9,1813.7,1821.7,1829.5,1837.3,1845.3,1853.1,1860.9,1868.7,1876.7,1884.5], "tickCount": 100, "format": ".2f", "tickSize": 3, "labelPadding": 3, "labelFontSize": 9.5, "labelBaseline": "middle", "labelOverlap": false, "labelBound": false}},
   "y2": {"field": "h"},
   "color": {"condition": {"test": "datum.c >= datum.o", "value": "#0000FF"}, "value": "#FF0000"}
  }
 },
 {
  "data": {"name": "candles"},
  "mark": {"type": "bar", "size": 2, "strokeWidth": 1, "orient": "vertical"},
  "encoding": {
   "x": {"field": "i", "type": "quantitative", "scale": {"domain": [-0.375, 466.625], "nice": false, "zero": false}},
   "y": {"field": "o", "type": "quantitative", "scale": {"domain": [1671.73, 1885.93], "nice": false, "zero": false}},
   "y2": {"field": "c"},
   "color": {"condition": {"test": "datum.c >= datum.o", "value": "#0000FF"}, "value": "#FF0000"},
   "stroke": {"condition": {"test": "datum.c >= datum.o", "value": "#0000FF"}, "value": "#FF0000"}
  }
 },
 {
  "data": {"name": "fib"},
  "mark": {"type": "rule", "color": "#FF0000", "strokeWidth": 1},
  "encoding": {
   "x": {"datum": 376, "type": "quantitative"},
   "x2": {"datum": 466.625},
   "y": {"field": "p", "type": "quantitative"}
  }
 },
 {
  "data": {"name": "fib"},
  "mark": {"type": "text", "color": "#FF0000", "fontSize": 9, "align": "right", "baseline": "alphabetic", "dy": -2},
  "encoding": {
   "x": {"datum": 466.2, "type": "quantitative"},
   "y": {"field": "p", "type": "quantitative"},
   "text": {"field": "label"}
  }
 },
 {
  "data": {"name": "fibdiag"},
  "mark": {"type": "line", "color": "#FF0000", "strokeWidth": 1, "strokeDash": [1, 3]},
  "encoding": {
   "x": {"field": "i", "type": "quantitative"},
   "y": {"field": "p", "type": "quantitative"}
  }
 },
 {
  "data": {"name": "trend"},
  "mark": {"type": "line", "color": "#FF0000", "strokeWidth": 4.5, "strokeCap": "round", "clip": false},
  "encoding": {
   "x": {"field": "i", "type": "quantitative"},
   "y": {"field": "p", "type": "quantitative"}
  }
 },
 {
  "data": {"name": "arrow"},
  "mark": {"type": "line", "color": "#FF2A2A", "strokeWidth": 3, "strokeCap": "round"},
  "encoding": {
   "x": {"field": "i", "type": "quantitative"},
   "y": {"field": "p", "type": "quantitative"}
  }
 },
 {
  "data": {"name": "arrowhead"},
  "mark": {"type": "point", "shape": "triangle-up", "filled": true, "color": "#FF2A2A", "size": 70, "angle": 22, "opacity": 1},
  "encoding": {
   "x": {"field": "i", "type": "quantitative"},
   "y": {"field": "p", "type": "quantitative"}
  }
 },
 {
  "data": {"name": "bid"},
  "mark": {"type": "rect", "color": "#000000", "clip": false},
  "encoding": {
   "x": {"datum": 466.9, "type": "quantitative"},
   "x2": {"datum": 477.4},
   "y": {"datum": 1782.63, "type": "quantitative"},
   "y2": {"datum": 1780.21}
  }
 },
 {
  "data": {"name": "bid"},
  "mark": {"type": "text", "color": "#FFFFFF", "fontSize": 9.5, "align": "center", "baseline": "middle", "clip": false},
  "encoding": {
   "x": {"datum": 472.15, "type": "quantitative"},
   "y": {"field": "p", "type": "quantitative"},
   "text": {"field": "p", "format": ".2f"}
  }
 },
 {
  "data": {"values": [{"i":1.5,"p":1883.9}]},
  "mark": {"type": "point", "shape": "triangle-down", "filled": true, "color": "#000000", "size": 30, "opacity": 1},
  "encoding": {
   "x": {"field": "i", "type": "quantitative"},
   "y": {"field": "p", "type": "quantitative"}
  }
 },
 {
  "data": {"values": [{"i":3.6,"p":1883.86,"t":"XAUUSD,H4"}]},
  "mark": {"type": "text", "color": "#000000", "fontSize": 9.5, "align": "left", "baseline": "middle"},
  "encoding": {
   "x": {"field": "i", "type": "quantitative"},
   "y": {"field": "p", "type": "quantitative"},
   "text": {"field": "t"}
  }
 },
 {
  "data": {"values": [{"i":372.9,"p":1885.3}]},
  "mark": {"type": "point", "shape": "triangle-down", "filled": true, "color": "#A0A0A0", "size": 30, "opacity": 1},
  "encoding": {
   "x": {"field": "i", "type": "quantitative"},
   "y": {"field": "p", "type": "quantitative"}
  }
 }
]
}
